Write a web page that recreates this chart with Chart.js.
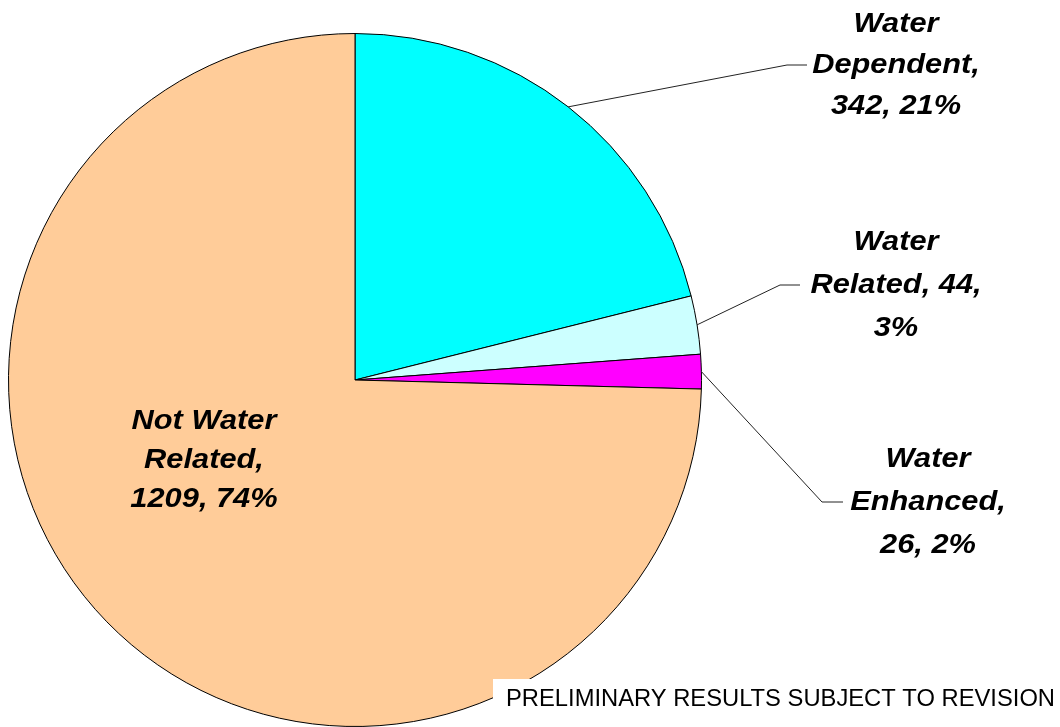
<!DOCTYPE html>
<html>
<head>
<meta charset="utf-8">
<script src="https://cdn.jsdelivr.net/npm/chart.js@4.4.1/dist/chart.umd.min.js"></script>
<style>
    html, body { margin: 0; padding: 0; background: #fff; }
    #wrap { width: 1060px; height: 727px; position: relative; }
</style>
</head>
<body>
<div id="wrap"><canvas id="myPieChart" width="1060" height="727"></canvas></div>
<script>
    // data
    const categories = ["Water Dependent", "Water Related", "Water Enhanced", "Not Water Related"];
    const counts = [342, 44, 26, 1209];
    const percents = [21, 3, 2, 74]; // as printed on the original
    const sliceColors = ["#00FFFF", "#CCFFFF", "#FF00FF", "#FFCC99"];

    // label text split the way the original wraps it
    const labelLines = [
        ["Water", "Dependent,", counts[0] + ", " + percents[0] + "%"],
        ["Water", "Related, " + counts[1] + ",", percents[1] + "%"],
        ["Water", "Enhanced,", counts[2] + ", " + percents[2] + "%"],
        ["Not Water", "Related,", counts[3] + ", " + percents[3] + "%"],
    ];

    // where each label sits, and the elbow of its leader line (null = inside slice)
    const labelPlace = [
        { cx: 896, top: 24, gap: 41, elbow: [787, 65], end: 807 },
        { cx: 896, top: 242, gap: 43, elbow: [780, 285], end: 800 },
        { cx: 928, top: 459, gap: 43, elbow: [822, 502], end: 843 },
        { cx: 204, top: 421, gap: 39, elbow: null },
    ];

    const labelPlugin = {
        id: "sliceLabels",
        afterDatasetsDraw(chart) {
            const ctx = chart.ctx;
            const arcs = chart.getDatasetMeta(0).data;
            ctx.save();
            arcs.forEach((arc, i) => {
                const p = labelPlace[i];
                if (p.elbow) {
                    const mid = (arc.startAngle + arc.endAngle) / 2;
                    const sx = arc.x + Math.cos(mid) * arc.outerRadius;
                    const sy = arc.y + Math.sin(mid) * arc.outerRadius;
                    ctx.beginPath();
                    ctx.moveTo(sx, sy);
                    ctx.lineTo(p.elbow[0], p.elbow[1]);
                    ctx.lineTo(p.end, p.elbow[1]);
                    ctx.strokeStyle = "#222";
                    ctx.lineWidth = 1;
                    ctx.stroke();
                }
                ctx.font = "italic bold 28px 'Liberation Sans', Arial, sans-serif";
                ctx.fillStyle = "#000";
                ctx.textAlign = "center";
                ctx.textBaseline = "middle";
                labelLines[i].forEach((line, k) => {
                    ctx.save();
                    ctx.translate(p.cx, p.top + k * p.gap);
                    ctx.scale(1.1, 1); // original text is a bit wider
                    ctx.fillText(line, 0, 0);
                    ctx.restore();
                });
            });

            // footer note on a white box
            ctx.fillStyle = "#fff";
            ctx.fillRect(493, 679, 567, 48);
            ctx.font = "24px 'Liberation Sans', Arial, sans-serif";
            ctx.fillStyle = "#000";
            ctx.textAlign = "left";
            ctx.textBaseline = "middle";
            const note = "PRELIMINARY RESULTS SUBJECT TO REVISION";
            const w = ctx.measureText(note).width;
            ctx.translate(506, 699);
            ctx.scale(549 / w, 1);
            ctx.fillText(note, 0, 0);
            ctx.restore();
        },
    };

    new Chart(document.getElementById("myPieChart"), {
        type: "pie",
        data: {
            labels: categories,
            datasets: [
                {
                    data: counts,
                    backgroundColor: sliceColors,
                    hoverBackgroundColor: sliceColors,
                    borderColor: "#000",
                    borderWidth: 1,
                },
            ],
        },
        options: {
            responsive: false,
            animation: false,
            layout: {
                padding: { left: 8, top: 33, right: 358, bottom: 0 },
            },
            plugins: {
                legend: { display: false },
                tooltip: { enabled: false },
            },
        },
        plugins: [labelPlugin],
    });
</script>
</body>
</html>
